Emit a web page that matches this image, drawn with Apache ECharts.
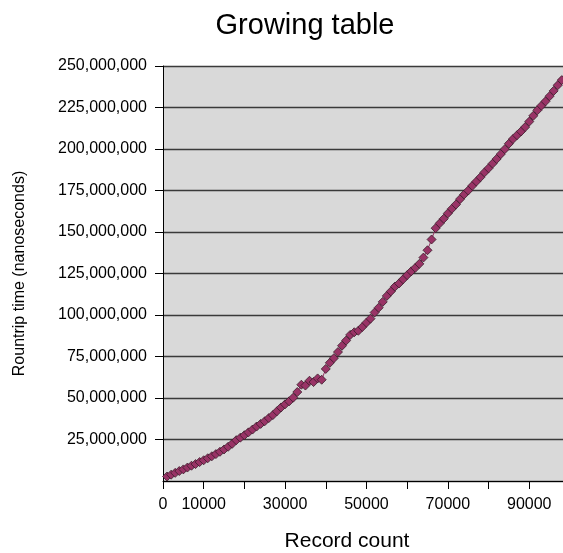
<!DOCTYPE html>
<html>
<head>
    <meta charset="UTF-8">
    <script type="text/javascript" src="https://cdn.jsdelivr.net/npm/echarts@6/dist/echarts.min.js"></script>
    <style>
        html, body { margin: 0; padding: 0; background: #fff; }
    </style>
</head>
<body>
    <div style="height: 553px;width: 563px" id="myDiv"></div>
    <script type="text/javascript">
        // record counts (x) and roundtrip times in nanoseconds (y)
        var recordCounts = [
            1000, 2000, 3000, 4000, 5000, 6000, 7000, 8000, 9000, 10000,
            11000, 12000, 13000, 14000, 15000, 16000, 17000, 18000, 19000, 20000,
            21000, 22000, 23000, 24000, 25000, 26000, 27000, 28000, 29000, 30000,
            31000, 32000, 33000, 34000, 35000, 36000, 37000, 38000, 39000, 40000,
            41000, 42000, 43000, 44000, 45000, 46000, 47000, 48000, 49000, 50000,
            51000, 52000, 53000, 54000, 55000, 56000, 57000, 58000, 59000, 60000,
            61000, 62000, 63000, 64000, 65000, 66000, 67000, 68000, 69000, 70000,
            71000, 72000, 73000, 74000, 75000, 76000, 77000, 78000, 79000, 80000,
            81000, 82000, 83000, 84000, 85000, 86000, 87000, 88000, 89000, 90000,
            91000, 92000, 93000, 94000, 95000, 96000, 97000, 98000
        ];
        var roundtripMillions = [
            2.7, 3.8, 4.9, 6.0, 7.0, 8.1, 9.2, 10.2, 11.4, 12.5,
            13.7, 14.9, 16.2, 17.6, 19.0, 20.6, 22.4, 24.6, 26.1, 27.6,
            29.3, 31.0, 32.8, 34.4, 36.0, 37.9, 39.7, 42.0, 44.3, 46.2,
            48.0, 50.2, 53.6, 58.0, 57.5, 60.4, 59.6, 61.8, 61.0, 67.5,
            71.2, 74.0, 77.7, 81.5, 84.6, 88.0, 89.6, 90.5, 92.8, 95.4,
            97.8, 101.5, 104.4, 107.9, 111.5, 114.2, 117.1, 119.0, 121.5, 124.0,
            126.3, 128.4, 130.8, 134.6, 139.0, 145.5, 152.3, 155.2, 158.0, 161.2,
            164.0, 166.6, 169.8, 172.6, 175.0, 177.8, 180.4, 183.0, 185.9, 188.4,
            191.2, 194.0, 196.9, 199.9, 203.2, 206.0, 208.3, 210.6, 213.2, 216.5,
            220.0, 223.3, 226.1, 228.7, 231.8, 235.0, 238.4, 241.5
        ];
        var xLabelsShown = [0, 10000, 30000, 50000, 70000, 90000];

        var points = [];
        for (var i = 0; i < recordCounts.length; i++) {
            points.push([recordCounts[i], roundtripMillions[i] * 1000000]);
        }

        var font = "'Liberation Sans', Arial, sans-serif";
        var chart = echarts.init(document.getElementById("myDiv"));
        var option = {
            animation: false,
            title: {
                text: 'Growing table',
                left: 300,
                textAlign: 'center',
                top: 6,
                textStyle: {
                    fontFamily: font,
                    fontSize: 29,
                    fontWeight: 'normal',
                    color: '#000'
                }
            },
            grid: {
                left: 163,
                top: 66,
                right: 0,
                bottom: 72,
                outerBoundsMode: 'none',
                containLabel: false,
                show: true,
                backgroundColor: '#d9d9d9',
                borderWidth: 0
            },
            xAxis: {
                type: 'value',
                min: 0,
                max: 98300,
                interval: 10000,
                name: 'Record count',
                nameLocation: 'middle',
                nameGap: 50,
                nameTextStyle: {
                    fontFamily: font,
                    fontSize: 21,
                    color: '#000',
                    padding: [0, 32, 0, 0]
                },
                axisLine: { onZero: false, lineStyle: { color: '#000', width: 1 } },
                axisTick: { show: true, inside: false, length: 8, lineStyle: { color: '#000' } },
                axisLabel: {
                    margin: 16,
                    fontFamily: font,
                    fontSize: 16,
                    color: '#000',
                    showMaxLabel: false,
                    formatter: function (v) {
                        return xLabelsShown.indexOf(v) >= 0 ? String(v) : '';
                    }
                },
                splitLine: { show: false }
            },
            yAxis: {
                type: 'value',
                min: 0,
                max: 250000000,
                interval: 25000000,
                name: 'Rountrip time (nanoseconds)',
                nameLocation: 'middle',
                nameGap: 135,
                nameTextStyle: {
                    fontFamily: font,
                    fontSize: 16,
                    color: '#000'
                },
                axisLine: { show: true, lineStyle: { color: '#000', width: 1 } },
                axisTick: { show: true, inside: false, length: 8, lineStyle: { color: '#000' } },
                axisLabel: {
                    margin: 16,
                    fontFamily: font,
                    fontSize: 16,
                    color: '#000',
                    showMinLabel: false,
                    formatter: function (v) {
                        return v.toLocaleString('en-US');
                    }
                },
                splitLine: { show: true, lineStyle: { color: '#3a3a3a', width: 1.3 } }
            },
            series: [
                {
                    type: 'line',
                    data: points,
                    symbol: 'diamond',
                    symbolSize: 9,
                    lineStyle: { color: '#993366', width: 1 },
                    itemStyle: {
                        color: '#993366',
                        borderColor: '#3a1a2a',
                        borderWidth: 0.8
                    }
                }
            ]
        };
        chart.setOption(option);
    </script>
</body>
</html>
